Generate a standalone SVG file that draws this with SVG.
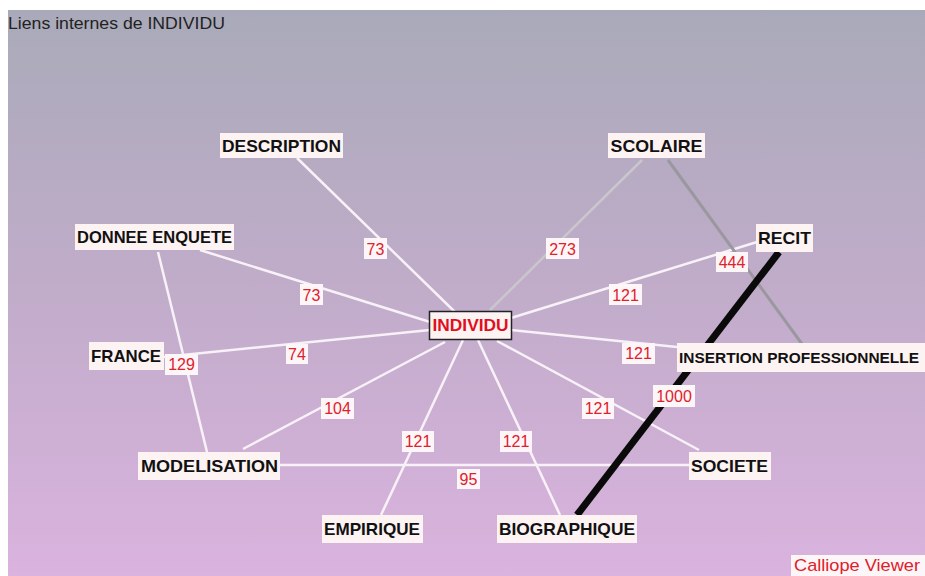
<svg xmlns="http://www.w3.org/2000/svg" width="925" height="576" viewBox="0 0 925 576">
<defs>
<linearGradient id="bg" x1="0" y1="0" x2="0" y2="1">
<stop offset="0" stop-color="#a9aab9"/>
<stop offset="0.5" stop-color="#c1acca"/>
<stop offset="1" stop-color="#dab3de"/>
</linearGradient>
<style>
.node rect{fill:#fdf3f3;}
.node text{font-family:"Liberation Sans",Arial,sans-serif;font-weight:bold;font-size:17px;fill:#111;text-anchor:middle;}
.lbl rect{fill:#fdf6f8;}
.lbl text{font-family:"Liberation Sans",Arial,sans-serif;font-size:16px;fill:#e0202a;text-anchor:middle;}
.e{stroke:#f8f2f8;stroke-width:2.5;fill:none;}
</style>
</defs>
<rect x="0" y="0" width="925" height="576" fill="#ffffff"/>
<rect x="8" y="10" width="917" height="566" fill="url(#bg)"/>
<text x="8" y="29" font-family="Liberation Sans,Arial,sans-serif" font-size="17" fill="#222" textLength="217" lengthAdjust="spacingAndGlyphs">Liens internes de INDIVIDU</text>

<g id="connectors">
<line class="e" x1="297" y1="158" x2="455" y2="312"/>
<line class="e" x1="200" y1="250" x2="430" y2="322"/>
<line class="e" x1="158" y1="252" x2="207" y2="452"/>
<line class="e" x1="163" y1="357" x2="430" y2="330"/>
<line class="e" x1="243" y1="449" x2="445" y2="342"/>
<line class="e" x1="381" y1="515" x2="463" y2="340"/>
<line class="e" x1="560" y1="515" x2="478" y2="340"/>
<line class="e" x1="699" y1="450" x2="497" y2="341"/>
<line class="e" x1="511" y1="330" x2="677" y2="347"/>
<line class="e" x1="280" y1="465" x2="689" y2="465"/>
<line class="e" x1="757" y1="242" x2="511" y2="318"/>
<line x1="642" y1="160" x2="490" y2="310" stroke="#c9c6cc" stroke-width="2.5"/>
<line x1="668" y1="160" x2="802" y2="344" stroke="#9a989e" stroke-width="3"/>
<line x1="779" y1="252" x2="577" y2="515" stroke="#0a0a0a" stroke-width="7"/>
</g>

<g id="edge-labels">
<g class="lbl"><rect x="364" y="238" width="23" height="21"/><text x="375.5" y="255">73</text></g>
<g class="lbl"><rect x="546" y="238" width="33" height="21"/><text x="562.5" y="255">273</text></g>
<g class="lbl"><rect x="300" y="284" width="23" height="21"/><text x="311.5" y="301">73</text></g>
<g class="lbl"><rect x="609" y="284" width="33" height="21"/><text x="625.5" y="301">121</text></g>
<g class="lbl"><rect x="716" y="252" width="32" height="20"/><text x="732" y="268">444</text></g>
<g class="lbl"><rect x="286" y="344" width="22" height="20"/><text x="297" y="360">74</text></g>
<g class="lbl"><rect x="165" y="354" width="33" height="21"/><text x="181.5" y="370">129</text></g>
<g class="lbl"><rect x="622" y="343" width="33" height="21"/><text x="638.5" y="359">121</text></g>
<g class="lbl"><rect x="653" y="385" width="42" height="22"/><text x="674" y="402">1000</text></g>
<g class="lbl"><rect x="321" y="398" width="33" height="21"/><text x="337.5" y="414">104</text></g>
<g class="lbl"><rect x="582" y="398" width="32" height="21"/><text x="598" y="414">121</text></g>
<g class="lbl"><rect x="402" y="431" width="32" height="21"/><text x="418" y="447">121</text></g>
<g class="lbl"><rect x="500" y="431" width="32" height="21"/><text x="516" y="447">121</text></g>
<g class="lbl"><rect x="457" y="469" width="23" height="20"/><text x="468.5" y="485">95</text></g>
</g>

<g id="n-description" class="node"><rect x="220" y="133" width="123" height="25"/><text x="281.5" y="152" textLength="119" lengthAdjust="spacingAndGlyphs">DESCRIPTION</text></g>
<g id="n-scolaire" class="node"><rect x="608" y="133" width="97" height="25"/><text x="656.5" y="152" textLength="92" lengthAdjust="spacingAndGlyphs">SCOLAIRE</text></g>
<g id="n-donnee-enquete" class="node"><rect x="75" y="224" width="159" height="26"/><text x="154.5" y="243" textLength="155" lengthAdjust="spacingAndGlyphs">DONNEE ENQUETE</text></g>
<g id="n-recit" class="node"><rect x="756" y="224" width="57" height="28"/><text x="784.5" y="244" textLength="53" lengthAdjust="spacingAndGlyphs">RECIT</text></g>
<g id="n-individu" class="node"><rect x="429.5" y="311.5" width="82" height="28" stroke="#222" stroke-width="1.5"/><text x="470.5" y="331" style="fill:#e0101c" textLength="76" lengthAdjust="spacingAndGlyphs">INDIVIDU</text></g>
<g id="n-france" class="node"><rect x="89" y="342" width="75" height="28"/><text x="126" y="362" textLength="70" lengthAdjust="spacingAndGlyphs">FRANCE</text></g>
<g id="n-insertion" class="node"><rect x="677" y="343" width="248" height="29"/><text x="679" y="363" style="text-anchor:start;font-size:15px" textLength="240" lengthAdjust="spacingAndGlyphs">INSERTION PROFESSIONNELLE</text></g>
<g id="n-modelisation" class="node"><rect x="138" y="452" width="142" height="28"/><text x="209.5" y="472" textLength="137" lengthAdjust="spacingAndGlyphs">MODELISATION</text></g>
<g id="n-societe" class="node"><rect x="689" y="452" width="82" height="28"/><text x="729.5" y="472" textLength="77" lengthAdjust="spacingAndGlyphs">SOCIETE</text></g>
<g id="n-empirique" class="node"><rect x="322" y="515" width="101" height="28"/><text x="372" y="535" textLength="96" lengthAdjust="spacingAndGlyphs">EMPIRIQUE</text></g>
<g id="n-biographique" class="node"><rect x="497" y="515" width="140" height="28"/><text x="567" y="535" textLength="136" lengthAdjust="spacingAndGlyphs">BIOGRAPHIQUE</text></g>

<rect x="791" y="555" width="134" height="21" fill="#fdf6f8"/>
<text x="794" y="571" font-family="Liberation Sans,Arial,sans-serif" font-size="17" fill="#e0202a" textLength="126" lengthAdjust="spacingAndGlyphs">Calliope Viewer</text>
</svg>
